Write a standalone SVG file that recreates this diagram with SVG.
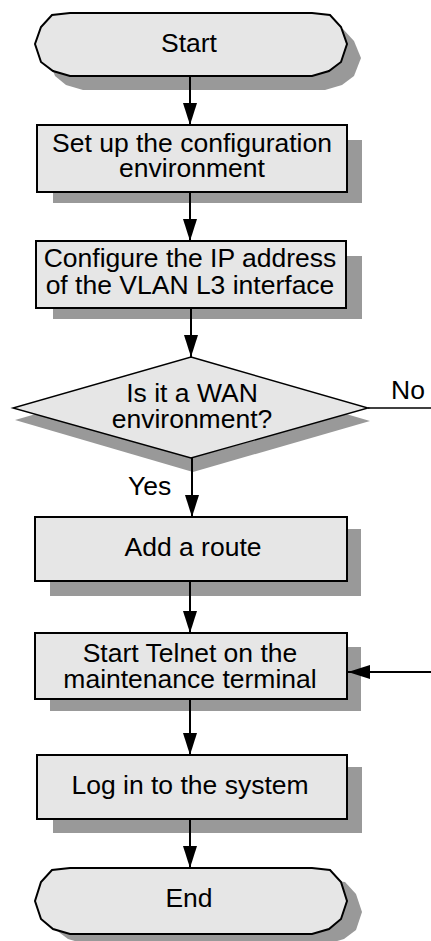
<svg xmlns="http://www.w3.org/2000/svg" width="431" height="941" viewBox="0 0 431 941">
  <style>
    .shadow { fill: #999999; stroke: none; }
    .box { fill: #e6e6e6; stroke: #000000; stroke-width: 2; }
    .decision { fill: #e6e6e6; stroke: #000000; stroke-width: 1.4; }
    .label { font-family: "Liberation Sans", Arial, Helvetica, sans-serif; font-size: 26.5px; fill: #000000; text-anchor: middle; }
    .side { text-anchor: start; }
    .flow { fill: none; stroke: #000000; stroke-width: 2; }
    .branch { fill: none; stroke: #000000; stroke-width: 1.5; }
  </style>
  <defs>
    <marker id="arrow" markerUnits="userSpaceOnUse" markerWidth="22" markerHeight="14" refX="22" refY="7" orient="auto" viewBox="0 0 22 14">
      <path d="M0,0 L22,7 L0,14 Z" fill="#000000"/>
    </marker>
  </defs>
  <rect width="431" height="941" fill="#ffffff"/>

  <!-- terminator: Start -->
  <g id="start">
    <polygon class="shadow" points="83,27 325,27 343,29 354,41 361,58 354,76 342,85 325,90 83,90 66,85 55,76 48,58 55,41 66,29"/>
    <polygon class="box" points="70,13 312,13 330,15 341,27 347,44 341,62 329,71 312,76 70,76 53,71 41,62 35,44 41,27 52,15"/>
    <text class="label" x="189" y="52">Start</text>
  </g>

  <!-- process: environment setup -->
  <g id="setup-env">
    <rect class="shadow" x="53" y="140" width="309" height="63"/>
    <rect class="box" x="37" y="125" width="310" height="67"/>
    <text class="label" x="192" y="152">Set up the configuration</text>
    <text class="label" x="192" y="177">environment</text>
  </g>

  <!-- process: VLAN L3 interface address -->
  <g id="config-ip">
    <rect class="shadow" x="53" y="256" width="309" height="63"/>
    <rect class="box" x="36" y="241" width="310" height="67"/>
    <text class="label" x="190" y="267">Configure the IP address</text>
    <text class="label" x="190" y="294">of the VLAN L3 interface</text>
  </g>

  <!-- decision: WAN environment -->
  <g id="wan-check">
    <polygon class="shadow" points="193,369 370,421 193,472 15,420"/>
    <polygon class="decision" points="191,357 368,408 191,458 13,408"/>
    <text class="label" x="192" y="402">Is it a WAN</text>
    <text class="label" x="192" y="428">environment?</text>
  </g>

  <!-- process: add route -->
  <g id="add-route">
    <rect class="shadow" x="50" y="529" width="311" height="67"/>
    <rect class="box" x="35" y="517" width="312" height="64"/>
    <text class="label" x="193" y="556">Add a route</text>
  </g>

  <!-- process: Telnet -->
  <g id="start-telnet">
    <rect class="shadow" x="50" y="647" width="311" height="64"/>
    <rect class="box" x="35" y="633" width="312" height="66"/>
    <text class="label" x="190" y="662">Start Telnet on the</text>
    <text class="label" x="190" y="688">maintenance terminal</text>
  </g>

  <!-- process: login -->
  <g id="login">
    <rect class="shadow" x="53" y="767" width="309" height="66"/>
    <rect class="box" x="37" y="755" width="310" height="64"/>
    <text class="label" x="190" y="794">Log in to the system</text>
  </g>

  <!-- terminator: End -->
  <g id="end">
    <polygon class="shadow" points="85,880 327,880 345,882 356,894 362,912 356,930 344,939 327,944 85,944 68,939 56,930 50,912 56,894 67,882"/>
    <polygon class="box" points="70,868 312,868 330,870 341,882 347,901 341,919 329,929 312,934 70,934 53,929 41,919 35,901 41,882 52,870"/>
    <text class="label" x="189" y="907">End</text>
  </g>

  <!-- connectors -->
  <g id="connectors">
    <line class="flow" x1="190" y1="76" x2="190" y2="125" marker-end="url(#arrow)"/>
    <line class="flow" x1="190" y1="192" x2="190" y2="241" marker-end="url(#arrow)"/>
    <line class="flow" x1="191" y1="308" x2="191" y2="357" marker-end="url(#arrow)"/>
    <line class="flow" x1="192" y1="458" x2="192" y2="517" marker-end="url(#arrow)"/>
    <line class="flow" x1="190" y1="581" x2="190" y2="633" marker-end="url(#arrow)"/>
    <line class="flow" x1="190" y1="699" x2="190" y2="755" marker-end="url(#arrow)"/>
    <line class="flow" x1="190" y1="819" x2="190" y2="868" marker-end="url(#arrow)"/>
    <line class="branch" x1="368" y1="408" x2="431" y2="408"/>
    <line class="flow" x1="431" y1="672" x2="348" y2="672" marker-end="url(#arrow)"/>
    <text class="label side" x="391" y="399">No</text>
    <text class="label side" x="128" y="495">Yes</text>
  </g>
</svg>
